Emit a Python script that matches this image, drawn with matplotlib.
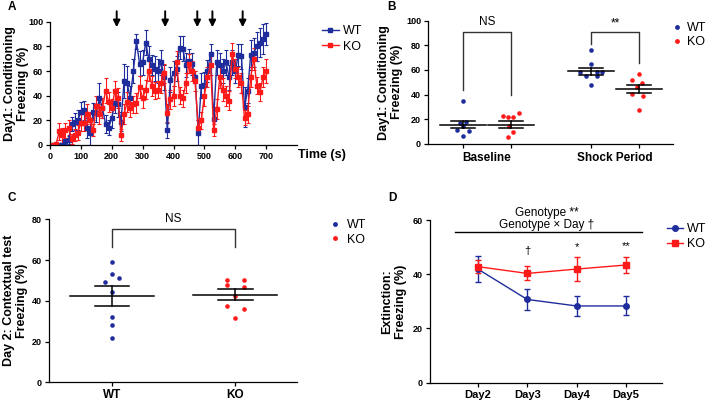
import matplotlib
matplotlib.use('Agg')
import matplotlib.pyplot as plt
import numpy as np

plt.rcParams['font.family'] = ['Liberation Sans', 'DejaVu Sans']
plt.rcParams['axes.linewidth'] = 0.9

BLUE = '#1f2d9c'
RED = '#ff1a1a'
DARK = '#333333'

# ---------------- Panel A data ----------------
time_s = np.arange(10, 710, 10)
wt_A = [0, 0, 0, 0, 3, 4, 17, 19, 20, 27,
        28, 14, 10, 27, 26, 38, 30, 17, 14, 22,
        34, 33, 19, 52, 50, 38, 60, 84, 66, 67,
        83, 70, 65, 62, 60, 67, 55, 12, 53, 58,
        62, 79, 78, 65, 68, 66, 55, 10, 48, 49,
        60, 74, 21, 67, 65, 60, 67, 55, 67, 60,
        73, 72, 31, 44, 73, 75, 80, 83, 86, 90]
wt_A_err = [0, 0, 0, 0, 2, 3, 6, 7, 8, 8,
            8, 8, 10, 7, 7, 12, 8, 7, 6, 8,
            8, 10, 8, 14, 14, 10, 10, 6, 10, 10,
            10, 10, 8, 10, 10, 10, 10, 6, 10, 10,
            10, 9, 10, 10, 10, 9, 5, 10, 10, 10,
            9, 8, 10, 10, 10, 10, 10, 10, 10, 10,
            9, 10, 16, 10, 12, 12, 12, 12, 12, 9]
ko_A = [0, 1, 11, 8, 12, 14, 5, 8, 10, 18,
        18, 25, 20, 12, 32, 25, 30, 44, 35, 30,
        44, 38, 8, 25, 35, 30, 33, 34, 47, 38,
        45, 60, 48, 44, 45, 50, 58, 26, 37, 40,
        67, 40, 38, 50, 66, 60, 52, 14, 20, 40,
        55, 65, 12, 29, 55, 45, 40, 36, 74, 62,
        55, 50, 22, 25, 55, 70, 48, 43, 55, 60]
ko_A_err = [0, 1, 7, 6, 6, 6, 4, 5, 6, 7,
            7, 8, 7, 5, 8, 8, 8, 10, 8, 7,
            8, 8, 5, 8, 8, 7, 7, 8, 9, 8,
            8, 8, 8, 7, 7, 8, 8, 7, 8, 8,
            9, 7, 7, 8, 8, 8, 8, 6, 7, 8,
            8, 8, 5, 8, 9, 9, 8, 8, 9, 8,
            8, 8, 6, 7, 8, 9, 7, 7, 8, 10]
shock_times = [216, 373, 477, 526, 624]

# ---------------- Panel B data ----------------
B_categories = ['Baseline', 'Shock Period']
B_wt_base = [35, 18, 16.5, 14, 11, 10.5, 6.5]
B_ko_base = [22.4, 21.4, 21.4, 25.1, 14.3, 9.7, 5.1]
B_wt_shock = [76, 65, 58, 58, 58, 55, 55, 48]
B_ko_shock = [57, 51.6, 49.5, 45.7, 40.8, 38.6, 27.8]
B_means = [15.5, 15.5, 58.8, 44.5]
B_sems = [3.1, 3.1, 2.8, 3.4]
B_jit_wt_base = [0, 0.07, -0.055, 0, -0.125, 0.12, 0]
B_jit_ko_base = [-0.17, -0.07, 0.05, 0.17, -0.035, 0.05, -0.055]
B_jit_wt_shock = [0, 0, -0.23, 0.12, 0.23, -0.11, 0.12, 0]
B_jit_ko_shock = [0, -0.15, 0.055, -0.05, -0.15, 0.09, 0]

# ---------------- Panel C data ----------------
C_categories = ['WT', 'KO']
C_wt = [59, 53, 51, 49, 44.5, 32, 28, 21.6]
C_ko = [50.2, 50.2, 48, 46.7, 42.5, 37.6, 36.2, 31.4]
C_means = [42.3, 43.0]
C_sems = [4.75, 2.65]
C_jit_wt = [0, 0, 0.06, -0.06, 0, 0, 0, 0]
C_jit_ko = [-0.07, 0.07, -0.07, 0.07, 0, -0.07, 0.07, 0]

# ---------------- Panel D data ----------------
D_days = ['Day2', 'Day3', 'Day4', 'Day5']
D_wt = [41.9, 30.7, 28.3, 28.3]
D_wt_err = [4.8, 4.0, 3.8, 3.5]
D_ko = [42.8, 40.3, 41.9, 43.4]
D_ko_err = [2.5, 2.6, 4.3, 2.8]
D_marks = ['†', '*', '**']

W, H = 709, 404
fig = plt.figure(figsize=(W / 100, H / 100), dpi=100)


def ax_px(l, t, r, b):
    return fig.add_axes([l / W, 1 - b / H, (r - l) / W, (b - t) / H])


def style(ax):
    for s in ['top', 'right']:
        ax.spines[s].set_visible(False)
    ax.tick_params(length=3, width=0.9, labelsize=6.5, pad=2)
    for lab in ax.get_xticklabels() + ax.get_yticklabels():
        lab.set_fontweight('bold')


YL = dict(fontsize=9, fontweight='bold', linespacing=1.15)

# ---------------- Panel A ----------------
axA = ax_px(50, 21.7, 297, 145)
axA.errorbar(time_s, wt_A, yerr=wt_A_err, fmt='-s', color=BLUE, ms=2.3, lw=1,
             elinewidth=0.8, capsize=1.3, capthick=0.8)
axA.errorbar(time_s, ko_A, yerr=ko_A_err, fmt='-s', color=RED, ms=2.3, lw=1,
             elinewidth=0.8, capsize=1.3, capthick=0.8)
axA.set_xlim(0, 800)
axA.set_ylim(0, 100)
axA.set_xticks(np.arange(0, 800, 100))
axA.set_yticks(np.arange(0, 101, 20))
style(axA)
axA.set_ylabel('Day1: Conditioning\nFreezing (%)', **YL)
axA.yaxis.set_label_coords(-0.085, 0.5)
for st in shock_times:
    axA.annotate('', xy=(st, 95.5), xytext=(st, 108.5), xycoords='data',
                 arrowprops=dict(arrowstyle='-|>', color='black', lw=1.4,
                                 mutation_scale=10, shrinkA=0, shrinkB=0),
                 annotation_clip=False)
fig.text(298 / W, 1 - 155 / H, 'Time (s)', fontsize=9, fontweight='bold',
         ha='left', va='center')
hA = [plt.Line2D([], [], marker='s', color=BLUE, ms=2.8, lw=1),
      plt.Line2D([], [], marker='s', color=RED, ms=2.8, lw=1)]
axA.legend(hA, ['WT', 'KO'], loc='upper left', bbox_to_anchor=(1.10, 0.97),
           frameon=False, fontsize=9, handlelength=1.4, handletextpad=0.3,
           borderpad=0, borderaxespad=0, labelspacing=0.25)

# ---------------- Panel B ----------------
axB = ax_px(428, 20.7, 673, 143.7)
g_centers = [0, 2.67]
pos = [g_centers[0] - 0.5, g_centers[0] + 0.5, g_centers[1] - 0.5, g_centers[1] + 0.5]
groups = [(B_wt_base, B_jit_wt_base, BLUE), (B_ko_base, B_jit_ko_base, RED),
          (B_wt_shock, B_jit_wt_shock, BLUE), (B_ko_shock, B_jit_ko_shock, RED)]
for p, (vals, jit, c), m, s in zip(pos, groups, B_means, B_sems):
    axB.plot(np.array(jit) + p, vals, 'o', color=c, ms=3.3, mec='none', zorder=2)
    axB.plot([p - 0.48, p + 0.48], [m, m], color='black', lw=1.1, zorder=3)
    axB.plot([p, p], [m - s, m + s], color='black', lw=1.1, zorder=3)
    axB.plot([p - 0.25, p + 0.25], [m - s, m - s], color='black', lw=1.1, zorder=3)
    axB.plot([p - 0.25, p + 0.25], [m + s, m + s], color='black', lw=1.1, zorder=3)
axB.plot([pos[0], pos[0], pos[1], pos[1]], [43.5, 91, 91, 39.5], color=DARK, lw=1)
axB.text(g_centers[0], 94, 'NS', ha='center', va='bottom', fontsize=8.5)
axB.plot([pos[2], pos[2], pos[3], pos[3]], [81, 91, 91, 66], color=DARK, lw=1)
axB.text(g_centers[1], 93, '**', ha='center', va='bottom', fontsize=8.5)
axB.set_xlim(-1.23, 3.88)
axB.set_ylim(0, 100)
axB.set_yticks(np.arange(0, 101, 20))
axB.set_xticks(pos)
axB.set_xticklabels(['', '', '', ''])
style(axB)
for gc, lab in zip(g_centers, B_categories):
    axB.text(gc, -7, lab, ha='center', va='top', fontsize=8.5, fontweight='bold')
axB.set_ylabel('Day1: Conditioning\nFreezing (%)', **YL)
axB.yaxis.set_label_coords(-0.10, 0.5)
hB = [plt.Line2D([], [], marker='o', ls='none', color=BLUE, ms=3.5, mec='none'),
      plt.Line2D([], [], marker='o', ls='none', color=RED, ms=3.5, mec='none')]
axB.legend(hB, ['WT', 'KO'], loc='upper left', bbox_to_anchor=(1.0, 0.99),
           frameon=False, fontsize=9, handlelength=0.6, handletextpad=0.5,
           borderpad=0, borderaxespad=0, labelspacing=0.2)

# ---------------- Panel C ----------------
axC = ax_px(49, 219.3, 297, 382.3)
for p, vals, jit, c, m, s in zip([0, 1], [C_wt, C_ko], [C_jit_wt, C_jit_ko],
                                 [BLUE, RED], C_means, C_sems):
    axC.plot(np.array(jit) + p, vals, 'o', color=c, ms=3.3, mec='none', zorder=2)
    axC.plot([p - 0.34, p + 0.34], [m, m], color='black', lw=1.1, zorder=3)
    axC.plot([p, p], [m - s, m + s], color='black', lw=1.1, zorder=3)
    axC.plot([p - 0.14, p + 0.14], [m - s, m - s], color='black', lw=1.1, zorder=3)
    axC.plot([p - 0.14, p + 0.14], [m + s, m + s], color='black', lw=1.1, zorder=3)
axC.plot([0, 0, 1, 1], [66.6, 75.3, 75.3, 66.6], color=DARK, lw=1)
axC.text(0.5, 77, 'NS', ha='center', va='bottom', fontsize=8.5)
axC.set_xlim(-0.51, 1.5)
axC.set_ylim(0, 80)
axC.set_yticks(np.arange(0, 81, 20))
axC.set_xticks([0, 1])
axC.set_xticklabels(C_categories)
style(axC)
for lab in axC.get_xticklabels():
    lab.set_fontsize(8.5)
axC.set_ylabel('Day 2: Contextual test\nFreezing (%)', **YL)
axC.yaxis.set_label_coords(-0.085, 0.5)
hC = [plt.Line2D([], [], marker='o', ls='none', color=BLUE, ms=3.5, mec='none'),
      plt.Line2D([], [], marker='o', ls='none', color=RED, ms=3.5, mec='none')]
axC.legend(hC, ['WT', 'KO'], loc='upper left', bbox_to_anchor=(1.14, 1.0),
           frameon=False, fontsize=9, handlelength=0.6, handletextpad=0.6,
           borderpad=0, borderaxespad=0, labelspacing=0.2)

# ---------------- Panel D ----------------
axD = ax_px(430, 220, 662, 382.7)
xd = np.arange(len(D_days))
axD.errorbar(xd, D_wt, yerr=D_wt_err, fmt='-o', color=BLUE, ms=4, lw=1,
             elinewidth=1, capsize=2.4, capthick=1)
axD.errorbar(xd, D_ko, yerr=D_ko_err, fmt='-s', color=RED, ms=4.3, lw=1,
             elinewidth=1, capsize=2.4, capthick=1)
axD.set_xlim(-0.97, 3.73)
axD.set_ylim(0, 60)
axD.set_yticks([0, 20, 40, 60])
axD.set_xticks(xd)
axD.set_xticklabels(D_days)
style(axD)
for lab in axD.get_xticklabels():
    lab.set_fontsize(8)
axD.plot([-0.47, 3.32], [55.6, 55.6], color='black', lw=1, clip_on=False)
axD.text(1.4, 62.7, 'Genotype **', ha='center', va='center', fontsize=8.5,
         clip_on=False)
axD.text(1.4, 58.3, 'Genotype × Day †', ha='center', va='center', fontsize=8.5,
         clip_on=False)
for x, mk, yy in zip(xd[1:], D_marks, [48.7, 50, 50.5]):
    axD.text(x, yy, mk, ha='center', va='center', fontsize=8)
axD.set_ylabel('Extinction:\nFreezing (%)', **YL)
axD.yaxis.set_label_coords(-0.10, 0.5)
hD = [plt.Line2D([], [], marker='o', color=BLUE, ms=4, lw=1),
      plt.Line2D([], [], marker='s', color=RED, ms=4.3, lw=1)]
axD.legend(hD, ['WT', 'KO'], loc='upper left', bbox_to_anchor=(1.02, 0.98),
           frameon=False, fontsize=9, handlelength=1.3, handletextpad=0.3,
           borderpad=0, borderaxespad=0, labelspacing=0.25)

# panel letters
for lt, (x, y) in zip('ABCD', [(12, 7), (392, 7), (12, 198), (392, 198)]):
    fig.text(x / W, 1 - y / H, lt, fontsize=8.5, fontweight='bold',
             ha='center', va='center')

fig.savefig('out.png', dpi=100)
